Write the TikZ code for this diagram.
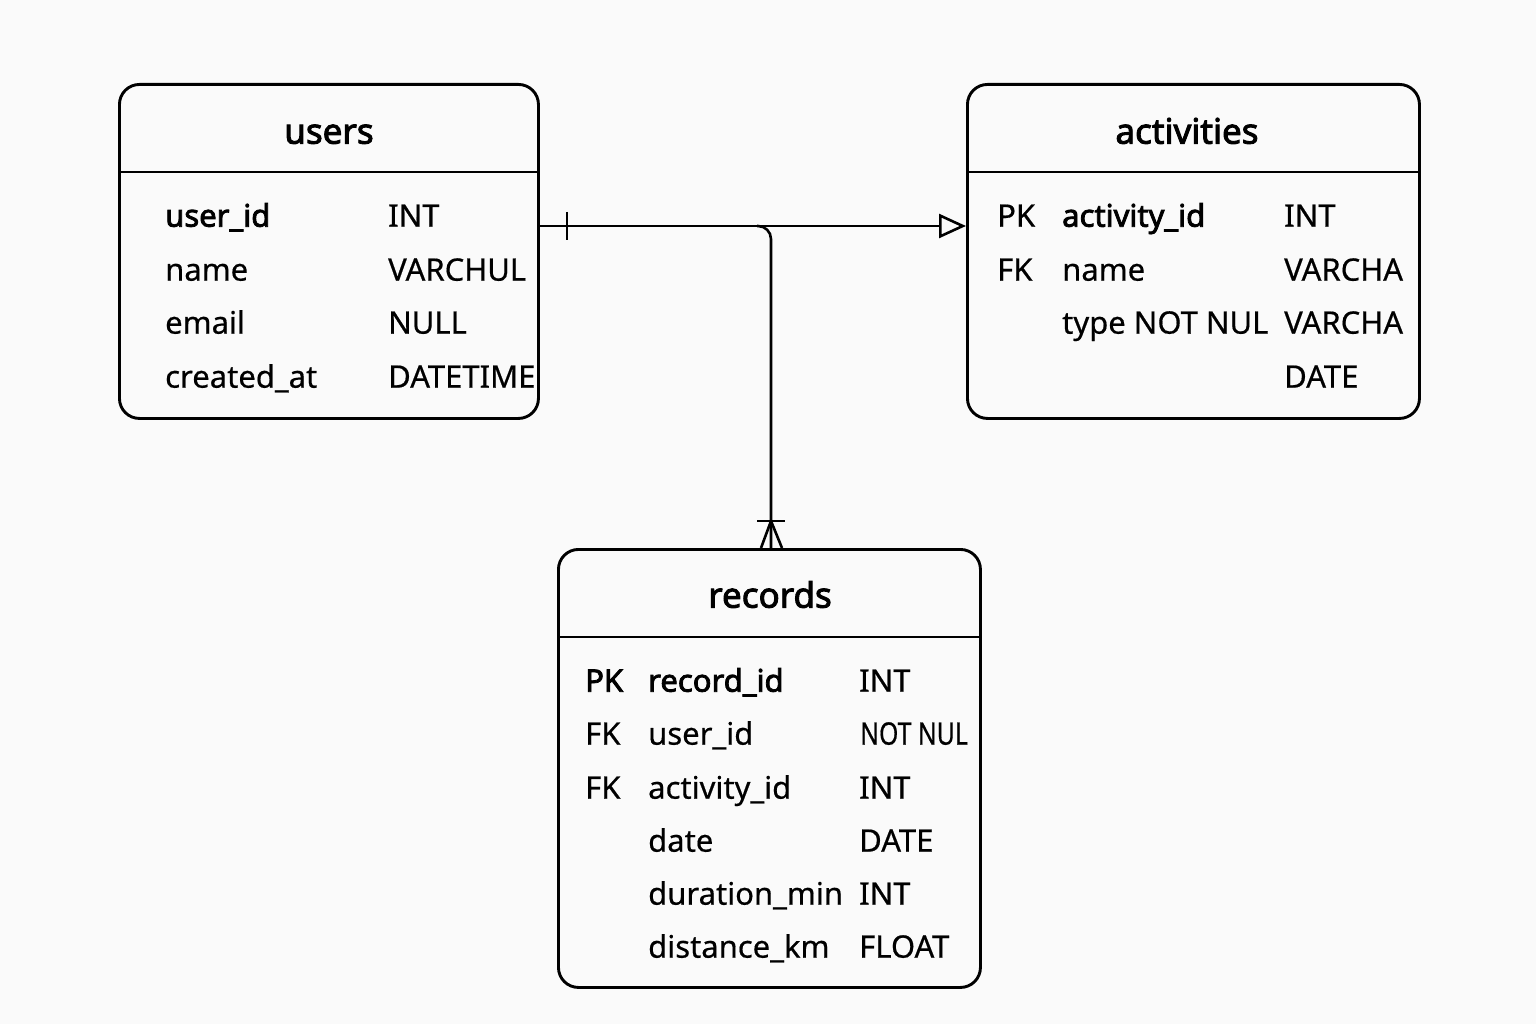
\documentclass[tikz,border=0pt]{standalone}
\usepackage{fontspec}
\setmainfont{Noto Sans}[FakeBold=0.5, BoldFont={Noto Sans}, BoldFeatures={FakeBold=2.6}]
\newfontfamily\condfont[FakeStretch=0.8, FakeBold=0.5]{Noto Sans}
\usetikzlibrary{arrows.meta, positioning}

\tikzset{
	table/.style={draw, line width=2.9pt, rounded corners=20pt, inner sep=0pt, anchor=north west},
	tabtitle/.style={anchor=mid, inner sep=0pt, yshift=-8pt, font=\fontsize{35}{40}\selectfont\bfseries},
	field/.style={anchor=mid west, inner sep=0pt, yshift=-8pt, font=\fontsize{31}{36}\selectfont},
	keyfield/.style={field, font=\fontsize{31}{36}\selectfont\bfseries},
	link/.style={line width=2.6pt},
}

\begin{document}
\begin{tikzpicture}[x=1pt, y=-1pt]
	%%%	Sfondo
	\fill[white!98!black] (0,0) rectangle (1536,1024);
	\useasboundingbox (0,0) rectangle (1536,1024);
	%%%	Tabelle
	\node[table, minimum width=419pt, minimum height=334pt] (users) at (118,83) {};
	\node[table, minimum width=452pt, minimum height=334pt] (activities) at (966,83) {};
	\node[table, minimum width=422pt, minimum height=438pt] (records) at (557,548) {};
	\draw[link] (users.west |- 0,172) -- (users.east |- 0,172);
	\draw[link] (activities.west |- 0,172) -- (activities.east |- 0,172);
	\draw[link] (records.west |- 0,637) -- (records.east |- 0,637);
	%%%	users
	\node[tabtitle] (usersT) at (329,133) {users};
	\node[keyfield] (uName1) at (165,216) {user\_id};
	\node[field] (uType1) at (388,216) {INT};
	\node[field] (uName2) at (165,270) {name};
	\node[field] (uType2) at (388,270) {VARCHUL};
	\node[field] (uName3) at (165,323) {email};
	\node[field] (uType3) at (388,323) {NULL};
	\node[field] (uName4) at (165,377) {created\_at};
	\node[field] (uType4) at (388,377) {DATETIME};
	%%%	activities
	\node[tabtitle] (activitiesT) at (1187,133) {activities};
	\node[field] (aKey1) at (997,216) {PK};
	\node[keyfield] (aName1) at (1062,216) {activity\_id};
	\node[field] (aType1) at (1284,216) {INT};
	\node[field] (aKey2) at (997,270) {FK};
	\node[field] (aName2) at (1062,270) {name};
	\node[field] (aType2) at (1284,270) {VARCHA};
	\node[field] (aName3) at (1062,323) {type NOT NUL};
	\node[field] (aType3) at (1284,323) {VARCHA};
	\node[field] (aType4) at (1284,377) {DATE};
	%%%	records
	\node[tabtitle] (recordsT) at (770,597) {records};
	\node[keyfield] (rKey1) at (585,681) {PK};
	\node[keyfield] (rName1) at (648,681) {record\_id};
	\node[field] (rType1) at (859,681) {INT};
	\node[field] (rKey2) at (585,734) {FK};
	\node[field] (rName2) at (648,734) {user\_id};
	\node[field] (rType2) at (860,734) {\condfont NOT NUL};
	\node[field] (rKey3) at (585,788) {FK};
	\node[field] (rName3) at (648,788) {activity\_id};
	\node[field] (rType3) at (859,788) {INT};
	\node[field] (rName4) at (648,841) {date};
	\node[field] (rType4) at (859,841) {DATE};
	\node[field] (rName5) at (648,894) {duration\_min};
	\node[field] (rType5) at (859,894) {INT};
	\node[field] (rName6) at (648,947) {distance\_km};
	\node[field] (rType6) at (859,947) {FLOAT};
	%%%	Relazioni
	\coordinate (uR) at (users.east |- 0,226);
	\coordinate (aL) at (activities.west |- 0,226);
	\coordinate (tick) at (567,226);
	\coordinate (jL) at (757,226);
	\coordinate (jC) at (771,226);
	\coordinate (rT) at (jC |- records.north);
	\coordinate (foot) at (771,521);
	\draw[link, -{Triangle[open, length=27pt, width=24pt, line width=2.6pt]}] (uR) -- (aL);
	\draw[line width=2pt] (tick) ++(0,-14) -- ++(0,28);
	\draw[link, rounded corners=13pt] (jL) -- (jC) -- (rT);
	\draw[line width=2pt] (foot) ++(-14,0) -- ++(28,0);
	\draw[link] ([xshift=-10pt]rT) -- (foot) -- ([xshift=11pt]rT);
\end{tikzpicture}
\end{document}
